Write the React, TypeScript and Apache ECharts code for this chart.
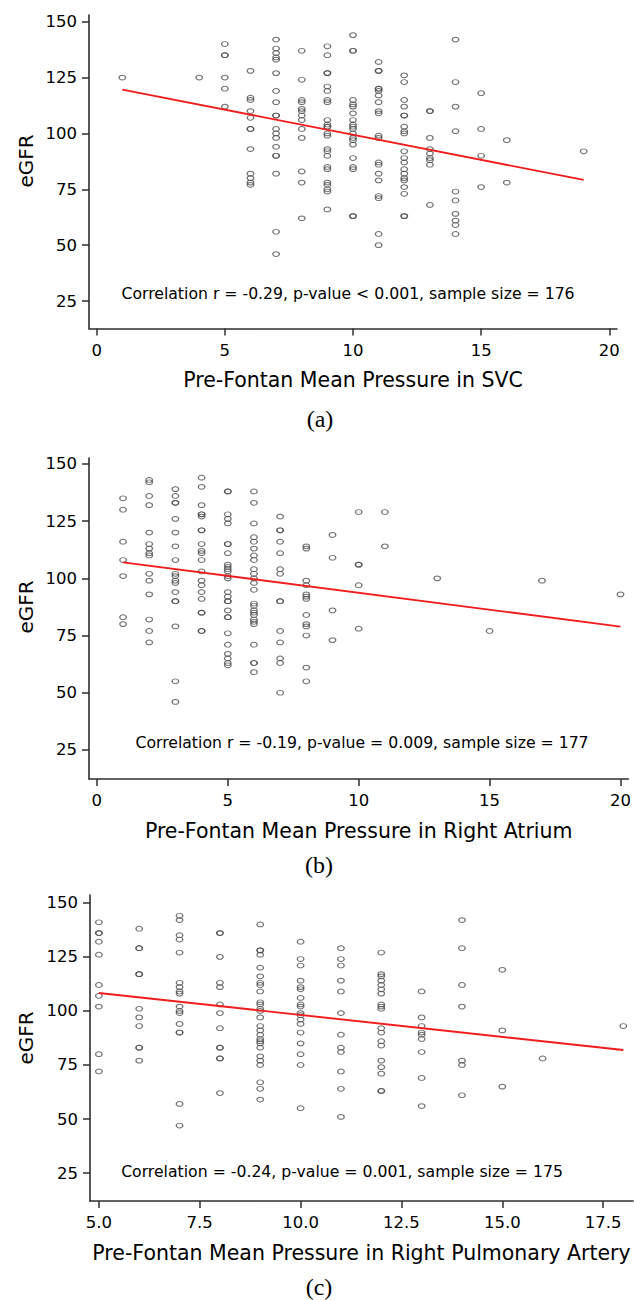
import React, { useEffect, useRef } from "react";
import * as echarts from "echarts";

// ---- Data (x = pressure, y = eGFR) ----
const svcPoints: [number, number][] = [
  [1, 125],
  [4, 125],
  [5, 140], [5, 135], [5, 135], [5, 125], [5, 120], [5, 112],
  [6, 128], [6, 116], [6, 115], [6, 110], [6, 107], [6, 102], [6, 102], [6, 93], [6, 82], [6, 80], [6, 78], [6, 77],
  [7, 142], [7, 138], [7, 136], [7, 134], [7, 133], [7, 127], [7, 119], [7, 114], [7, 108], [7, 108], [7, 102], [7, 100], [7, 98], [7, 94], [7, 90], [7, 90], [7, 82], [7, 56], [7, 46],
  [8, 137], [8, 124], [8, 115], [8, 114], [8, 111], [8, 110], [8, 108], [8, 106], [8, 102], [8, 98], [8, 83], [8, 78], [8, 62],
  [9, 139], [9, 135], [9, 127], [9, 127], [9, 121], [9, 119], [9, 115], [9, 114], [9, 106], [9, 104], [9, 103], [9, 103], [9, 100], [9, 99], [9, 93], [9, 92], [9, 90], [9, 85], [9, 84], [9, 78], [9, 77], [9, 75], [9, 74], [9, 66],
  [10, 144], [10, 137], [10, 137], [10, 115], [10, 113], [10, 112], [10, 109], [10, 106], [10, 104], [10, 103], [10, 102], [10, 100], [10, 98], [10, 97], [10, 95], [10, 89], [10, 85], [10, 84], [10, 63], [10, 63],
  [11, 132], [11, 128], [11, 128], [11, 120], [11, 120], [11, 119], [11, 117], [11, 114], [11, 110], [11, 109], [11, 99], [11, 98], [11, 87], [11, 86], [11, 82], [11, 79], [11, 72], [11, 71], [11, 55], [11, 50],
  [12, 126], [12, 123], [12, 115], [12, 112], [12, 108], [12, 108], [12, 103], [12, 101], [12, 100], [12, 92], [12, 89], [12, 87], [12, 84], [12, 82], [12, 80], [12, 79], [12, 76], [12, 73], [12, 63], [12, 63],
  [13, 110], [13, 110], [13, 98], [13, 93], [13, 91], [13, 89], [13, 88], [13, 86], [13, 68],
  [14, 142], [14, 123], [14, 112], [14, 101], [14, 74], [14, 70], [14, 64], [14, 61], [14, 59], [14, 55],
  [15, 118], [15, 102], [15, 90], [15, 76],
  [16, 97], [16, 78],
  [19, 92],
];

const raPoints: [number, number][] = [
  [1, 135], [1, 130], [1, 116], [1, 108], [1, 101], [1, 83], [1, 80],
  [2, 143], [2, 142], [2, 136], [2, 132], [2, 120], [2, 115], [2, 113], [2, 111], [2, 110], [2, 102], [2, 99], [2, 93], [2, 82], [2, 77], [2, 72],
  [3, 139], [3, 136], [3, 133], [3, 133], [3, 126], [3, 120], [3, 114], [3, 108], [3, 102], [3, 101], [3, 99], [3, 98], [3, 94], [3, 90], [3, 90], [3, 79], [3, 55], [3, 46],
  [4, 144], [4, 140], [4, 132], [4, 128], [4, 128], [4, 127], [4, 121], [4, 121], [4, 115], [4, 112], [4, 111], [4, 108], [4, 103], [4, 99], [4, 97], [4, 94], [4, 91], [4, 85], [4, 85], [4, 77], [4, 77],
  [5, 138], [5, 138], [5, 128], [5, 126], [5, 124], [5, 115], [5, 115], [5, 111], [5, 106], [5, 105], [5, 104], [5, 103], [5, 101], [5, 100], [5, 94], [5, 92], [5, 90], [5, 90], [5, 86], [5, 83], [5, 83], [5, 76], [5, 71], [5, 67], [5, 65], [5, 63], [5, 62],
  [6, 138], [6, 133], [6, 124], [6, 118], [6, 116], [6, 113], [6, 110], [6, 108], [6, 104], [6, 102], [6, 100], [6, 98], [6, 95], [6, 89], [6, 88], [6, 86], [6, 85], [6, 84], [6, 82], [6, 81], [6, 80], [6, 71], [6, 63], [6, 63], [6, 59],
  [7, 127], [7, 121], [7, 121], [7, 116], [7, 111], [7, 104], [7, 102], [7, 90], [7, 90], [7, 77], [7, 72], [7, 65], [7, 63], [7, 50],
  [8, 114], [8, 113], [8, 99], [8, 97], [8, 93], [8, 92], [8, 91], [8, 84], [8, 80], [8, 79], [8, 75], [8, 61], [8, 55],
  [9, 119], [9, 109], [9, 86], [9, 73],
  [10, 129], [10, 106], [10, 106], [10, 97], [10, 78],
  [11, 129], [11, 114],
  [13, 100],
  [15, 77],
  [17, 99],
  [20, 93],
];

const rpaPoints: [number, number][] = [
  [5, 141], [5, 136], [5, 136], [5, 132], [5, 126], [5, 112], [5, 107], [5, 102], [5, 80], [5, 72],
  [6, 138], [6, 129], [6, 129], [6, 117], [6, 117], [6, 101], [6, 97], [6, 93], [6, 83], [6, 83], [6, 77],
  [7, 144], [7, 142], [7, 135], [7, 133], [7, 127], [7, 113], [7, 111], [7, 109], [7, 108], [7, 102], [7, 100], [7, 99], [7, 94], [7, 90], [7, 90], [7, 57], [7, 47],
  [8, 136], [8, 136], [8, 125], [8, 113], [8, 111], [8, 103], [8, 99], [8, 92], [8, 83], [8, 83], [8, 78], [8, 78], [8, 62],
  [9, 140], [9, 128], [9, 128], [9, 126], [9, 120], [9, 116], [9, 113], [9, 112], [9, 109], [9, 104], [9, 103], [9, 101], [9, 100], [9, 97], [9, 93], [9, 91], [9, 89], [9, 87], [9, 86], [9, 85], [9, 83], [9, 79], [9, 77], [9, 75], [9, 67], [9, 64], [9, 59],
  [10, 132], [10, 124], [10, 121], [10, 114], [10, 111], [10, 110], [10, 106], [10, 103], [10, 102], [10, 99], [10, 98], [10, 96], [10, 94], [10, 90], [10, 85], [10, 80], [10, 75], [10, 55],
  [11, 129], [11, 124], [11, 121], [11, 114], [11, 109], [11, 99], [11, 89], [11, 83], [11, 81], [11, 72], [11, 64], [11, 51],
  [12, 127], [12, 117], [12, 116], [12, 114], [12, 112], [12, 110], [12, 108], [12, 103], [12, 102], [12, 101], [12, 92], [12, 90], [12, 86], [12, 84], [12, 77], [12, 74], [12, 71], [12, 63], [12, 63],
  [13, 109], [13, 97], [13, 93], [13, 90], [13, 89], [13, 87], [13, 81], [13, 69], [13, 56],
  [14, 142], [14, 129], [14, 112], [14, 102], [14, 77], [14, 75], [14, 61],
  [15, 119], [15, 91], [15, 65],
  [16, 78],
  [18, 93],
];

// fitted regression line end points
const svcFit: [number, number][] = [[1, 119.6], [19, 79.2]];
const raFit: [number, number][] = [[1, 107.0], [20, 78.9]];
const rpaFit: [number, number][] = [[5, 108.3], [18, 81.9]];

// tick labels
const yTicks = [25, 50, 75, 100, 125, 150];
const xTicksAB = [0, 5, 10, 15, 20];
const xTicksC = [5, 7.5, 10, 12.5, 15, 17.5];

const xTitles = [
  "Pre-Fontan Mean Pressure in SVC",
  "Pre-Fontan Mean Pressure in Right Atrium",
  "Pre-Fontan Mean Pressure in Right Pulmonary Artery",
];
const statTexts = [
  "Correlation r = -0.29, p-value < 0.001, sample size = 176",
  "Correlation r = -0.19, p-value = 0.009, sample size = 177",
  "Correlation = -0.24, p-value = 0.001, sample size = 175",
];
const panelLabels = ["(a)", "(b)", "(c)"];
const yTitle = "eGFR";

const SANS = "DejaVu Sans";
const SERIF = "Liberation Serif";
const AXIS_COLOR = "#2e2e2e";
const TEXT_COLOR = "#000";

const panels = [
  {
    points: svcPoints, fit: svcFit, xTicks: xTicksAB, dec: 0,
    grid: { left: 89, top: 15, width: 528, height: 313.5 },
    xMin: -0.3, xMax: 20.3, yMin: 12.7, yMax: 153.0,
    stat: { x: 348, y: 293 }, label: { x: 320, y: 419 }, yName: { x: 26, y: 161 },
  },
  {
    points: raPoints, fit: raFit, xTicks: xTicksAB, dec: 0,
    grid: { left: 89, top: 458, width: 542, height: 321 },
    xMin: -0.3, xMax: 20.3, yMin: 12.3, yMax: 152.6,
    stat: { x: 362, y: 742 }, label: { x: 319, y: 865 }, yName: { x: 26, y: 607 },
  },
  {
    points: rpaPoints, fit: rpaFit, xTicks: xTicksC, dec: 1,
    grid: { left: 90, top: 895, width: 543, height: 306 },
    xMin: 4.78, xMax: 18.24, yMin: 12.1, yMax: 153.6,
    stat: { x: 342, y: 1171 }, label: { x: 319, y: 1287 }, yName: { x: 26, y: 1038 },
  },
];

const ellipse = "path://M0,5a5,5 0 1,0 10,0a5,5 0 1,0 -10,0";

export default function App() {
  const ref = useRef<HTMLDivElement>(null);
  useEffect(() => {
    if (!ref.current) return;
    const chart = echarts.init(ref.current, null, { renderer: "svg" });
    const option: any = {
      animation: false,
      backgroundColor: "#fff",
      grid: panels.map((p) => ({ ...p.grid, containLabel: false })),
      xAxis: panels.map((p, i) => ({
        type: "value",
        gridIndex: i,
        min: p.xMin,
        max: p.xMax,
        name: xTitles[i],
        nameLocation: "middle",
        nameGap: 41,
        nameTextStyle: { fontFamily: SANS, fontSize: 20.5, color: TEXT_COLOR },
        axisLine: { show: true, onZero: false, lineStyle: { color: AXIS_COLOR, width: 1.6 } },
        axisTick: { show: true, customValues: p.xTicks, length: 7, lineStyle: { color: AXIS_COLOR, width: 1.5 } },
        axisLabel: {
          customValues: p.xTicks,
          margin: 13,
          fontFamily: SANS,
          fontSize: 16.5,
          color: TEXT_COLOR,
          formatter: (v: number) => v.toFixed(p.dec),
        },
        splitLine: { show: false },
      })),
      yAxis: panels.map((p, i) => ({
        type: "value",
        gridIndex: i,
        min: p.yMin,
        max: p.yMax,
        axisLine: { show: true, onZero: false, lineStyle: { color: AXIS_COLOR, width: 1.6 } },
        axisTick: { show: true, customValues: yTicks, length: 7, lineStyle: { color: AXIS_COLOR, width: 1.5 } },
        axisLabel: {
          customValues: yTicks,
          margin: 12,
          fontFamily: SANS,
          fontSize: 16.5,
          color: TEXT_COLOR,
        },
        splitLine: { show: false },
      })),
      series: panels.flatMap((p, i) => [
        {
          type: "scatter",
          xAxisIndex: i,
          yAxisIndex: i,
          data: p.points,
          symbol: ellipse,
          symbolSize: [6.6, 4.8],
          itemStyle: { color: "rgba(0,0,0,0)", borderColor: "#4d4d4d", borderWidth: 1.1 },
          z: 2,
        },
        {
          type: "line",
          xAxisIndex: i,
          yAxisIndex: i,
          data: p.fit,
          showSymbol: false,
          symbol: "none",
          lineStyle: { color: "#f21c1c", width: 1.9 },
          z: 3,
        },
      ]),
      graphic: panels.flatMap((p, i) => [
        {
          type: "text",
          x: p.stat.x,
          y: p.stat.y,
          style: {
            text: statTexts[i],
            fontFamily: SANS,
            fontSize: 15.7,
            fill: TEXT_COLOR,
            align: "center",
            verticalAlign: "middle",
            textAlign: "center",
            textVerticalAlign: "middle",
          },
        },
        {
          type: "text",
          x: p.label.x,
          y: p.label.y,
          style: {
            text: panelLabels[i],
            fontFamily: SERIF,
            fontSize: 24,
            fill: TEXT_COLOR,
            align: "center",
            verticalAlign: "middle",
            textAlign: "center",
            textVerticalAlign: "middle",
          },
        },
        {
          type: "text",
          x: p.yName.x,
          y: p.yName.y,
          rotation: Math.PI / 2,
          style: {
            text: yTitle,
            fontFamily: SANS,
            fontSize: 20,
            fill: TEXT_COLOR,
            align: "center",
            verticalAlign: "middle",
            textAlign: "center",
            textVerticalAlign: "middle",
          },
        },
      ]),
    };
    chart.setOption(option);
    return () => chart.dispose();
  }, []);
  return (
    <div
      ref={ref}
      style={{ position: "absolute", left: 0, top: 0, width: 634, height: 1300, background: "#fff" }}
    />
  );
}
